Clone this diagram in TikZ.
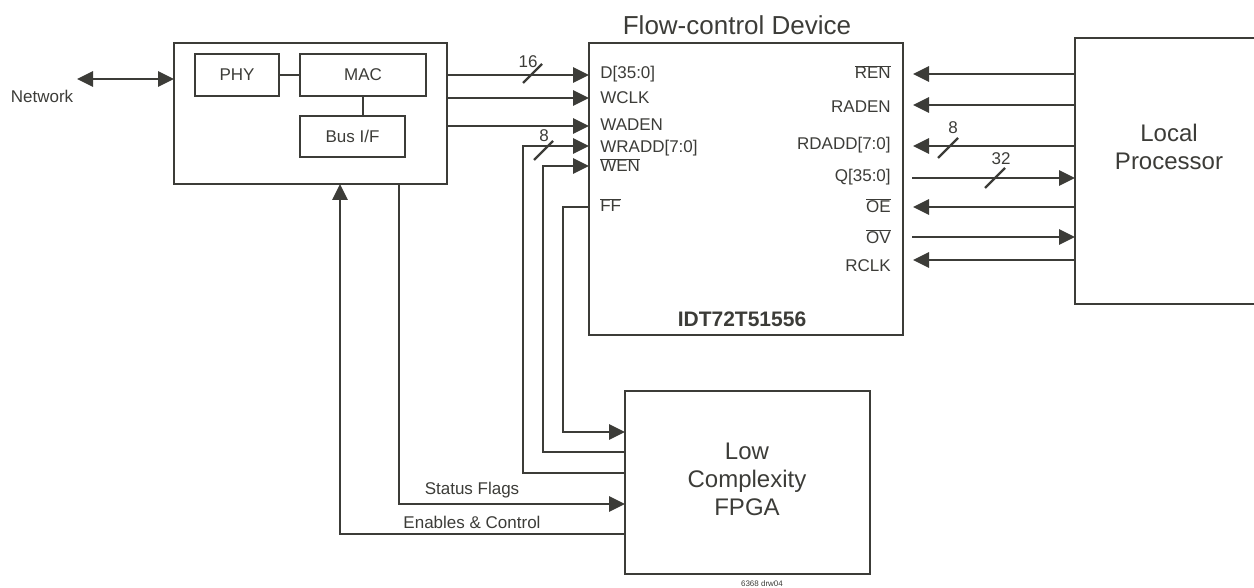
\documentclass[tikz,border=0pt]{standalone}
\usepackage{fontspec}
\setmainfont{Liberation Sans}
\usetikzlibrary{arrows.meta}
\definecolor{dk}{RGB}{60,60,56}
\newcommand{\ovl}[1]{$\overline{\mbox{#1}}$}
\begin{document}
\begin{tikzpicture}[x=1pt,y=-1pt,line width=2.7pt,color=dk,
  box/.style={draw=dk,line width=2.7pt,inner sep=0pt,outer sep=0pt,anchor=north west},
  sig/.style={-{Triangle[length=16pt,width=15pt]}},
  dsig/.style={{Triangle[length=16pt,width=15pt]}-{Triangle[length=16pt,width=15pt]}},
  lbl/.style={font=\fontsize{17}{19}\selectfont,inner sep=0pt},
  big/.style={font=\fontsize{24}{28}\selectfont,align=center,inner sep=0pt},
  slash/.style={line width=2.2pt}]
\useasboundingbox (0,0) rectangle (1254,588);
% boxes
\node[box,minimum width=273pt,minimum height=141pt] (macbox) at (174,43) {};
\node[box,minimum width=84pt,minimum height=42pt,font=\fontsize{17}{19}\selectfont] (phy) at (195,54) {PHY};
\node[box,minimum width=126pt,minimum height=42pt,font=\fontsize{17}{19}\selectfont] (mac) at (300,54) {MAC};
\node[box,minimum width=105pt,minimum height=41pt,font=\fontsize{17}{19}\selectfont] (busif) at (300,116) {Bus I/F};
\node[box,minimum width=314pt,minimum height=292pt] (fcd) at (589,43) {};
\node[box,minimum width=200pt,minimum height=266pt] (lp) at (1075,38) {};
\node[box,minimum width=245pt,minimum height=183pt] (fpga) at (625,391) {};
% texts
\node[font=\fontsize{26}{30}\selectfont,inner sep=0pt] (title) at (737,25) {Flow-control Device};
\node[font=\bfseries\fontsize{21}{24}\selectfont,inner sep=0pt] (idt) at (742,319) {IDT72T51556};
\node[big] (lptext) at (1169,147) {Local\\Processor};
\node[big] (fpgatext) at (747,479) {Low\\Complexity\\FPGA};
\node[lbl] (nettext) at (42,96) {Network};
% inner links
\draw (phy.east) -- (mac.west);
\draw (mac.south) -- (mac.south |- busif.north);
% network
\coordinate (net) at (77,79);
\draw[dsig] (net) -- (macbox.west |- net);
% left pins
\coordinate (pD) at (589,75);
\coordinate (pWCLK) at (589,98);
\coordinate (pWADEN) at (589,126);
\coordinate (pWRADD) at (589,146);
\coordinate (pWEN) at (589,166);
\coordinate (pFF) at (589,207);
\node[lbl,anchor=west] (lD) at (599,74) {D[35:0]};
\node[lbl,anchor=west] (lWCLK) at (599,98) {WCLK};
\node[lbl,anchor=west] (lWADEN) at (599,125) {WADEN};
\node[lbl,anchor=west] (lWRADD) at (599,148) {WRADD[7:0]};
\node[lbl,anchor=west] (lWEN) at (599,165) {\ovl{WEN}};
\node[lbl,anchor=west] (lFF) at (599,205) {\ovl{FF}};
\draw[sig] (macbox.east |- pD) -- (pD);
\draw[sig] (macbox.east |- pWCLK) -- (pWCLK);
\draw[sig] (macbox.east |- pWADEN) -- (pWADEN);
% right pins
\coordinate (pREN) at (913,74);
\coordinate (pRADEN) at (913,105);
\coordinate (pRDADD) at (913,146);
\coordinate (pQ) at (912,178);
\coordinate (pOE) at (913,207);
\coordinate (pOV) at (912,237);
\coordinate (pRCLK) at (913,260);
\node[lbl,anchor=east] (lREN) at (892,72) {\ovl{REN}};
\node[lbl,anchor=east] (lRADEN) at (892,107) {RADEN};
\node[lbl,anchor=east] (lRDADD) at (892,145) {RDADD[7:0]};
\node[lbl,anchor=east] (lQ) at (892,177) {Q[35:0]};
\node[lbl,anchor=east] (lOE) at (892,206) {\ovl{OE}};
\node[lbl,anchor=east] (lOV) at (892,237) {\ovl{OV}};
\node[lbl,anchor=east] (lRCLK) at (892,266) {RCLK};
\draw[sig] (lp.west |- pREN) -- (pREN);
\draw[sig] (lp.west |- pRADEN) -- (pRADEN);
\draw[sig] (lp.west |- pRDADD) -- (pRDADD);
\draw[sig] (pQ) -- (lp.west |- pQ);
\draw[sig] (lp.west |- pOE) -- (pOE);
\draw[sig] (pOV) -- (lp.west |- pOV);
\draw[sig] (lp.west |- pRCLK) -- (pRCLK);
% bus slashes
\draw[slash] (523,83) -- (542,64);
\node[lbl] (n16) at (528,62) {16};
\draw[slash] (534,160) -- (553,141);
\node[lbl] (n8a) at (544,136) {8};
\draw[slash] (938,158) -- (958,138);
\node[lbl] (n8b) at (953,128) {8};
\draw[slash] (985,188) -- (1005,168);
\node[lbl] (n32) at (1001,159) {32};
% FPGA connections
\coordinate (fA) at (625,432);
\coordinate (fB) at (625,452);
\coordinate (fC) at (625,473);
\coordinate (fD) at (625,504);
\coordinate (fE) at (625,534);
\coordinate (cFF) at (563,207);
\coordinate (cWEN) at (543,166);
\coordinate (cWRADD) at (523,146);
\coordinate (sf) at (399,184);
\coordinate (ec) at (340,184);
\draw[sig] (pFF) -- (cFF) |- (fA);
\draw[sig] (fB) -| (cWEN) -- (pWEN);
\draw[sig] (fC) -| (cWRADD) -- (pWRADD);
\draw[sig] (sf) |- (fD);
\draw[sig] (fE) -| (ec);
\node[lbl] (stf) at (472,490) {Status Flags};
\node[lbl] (enc) at (472,522) {Enables \& Control};
\node[font=\fontsize{8}{9}\selectfont,inner sep=0pt] (drw) at (762,584) {6368 drw04};
\end{tikzpicture}
\end{document}
